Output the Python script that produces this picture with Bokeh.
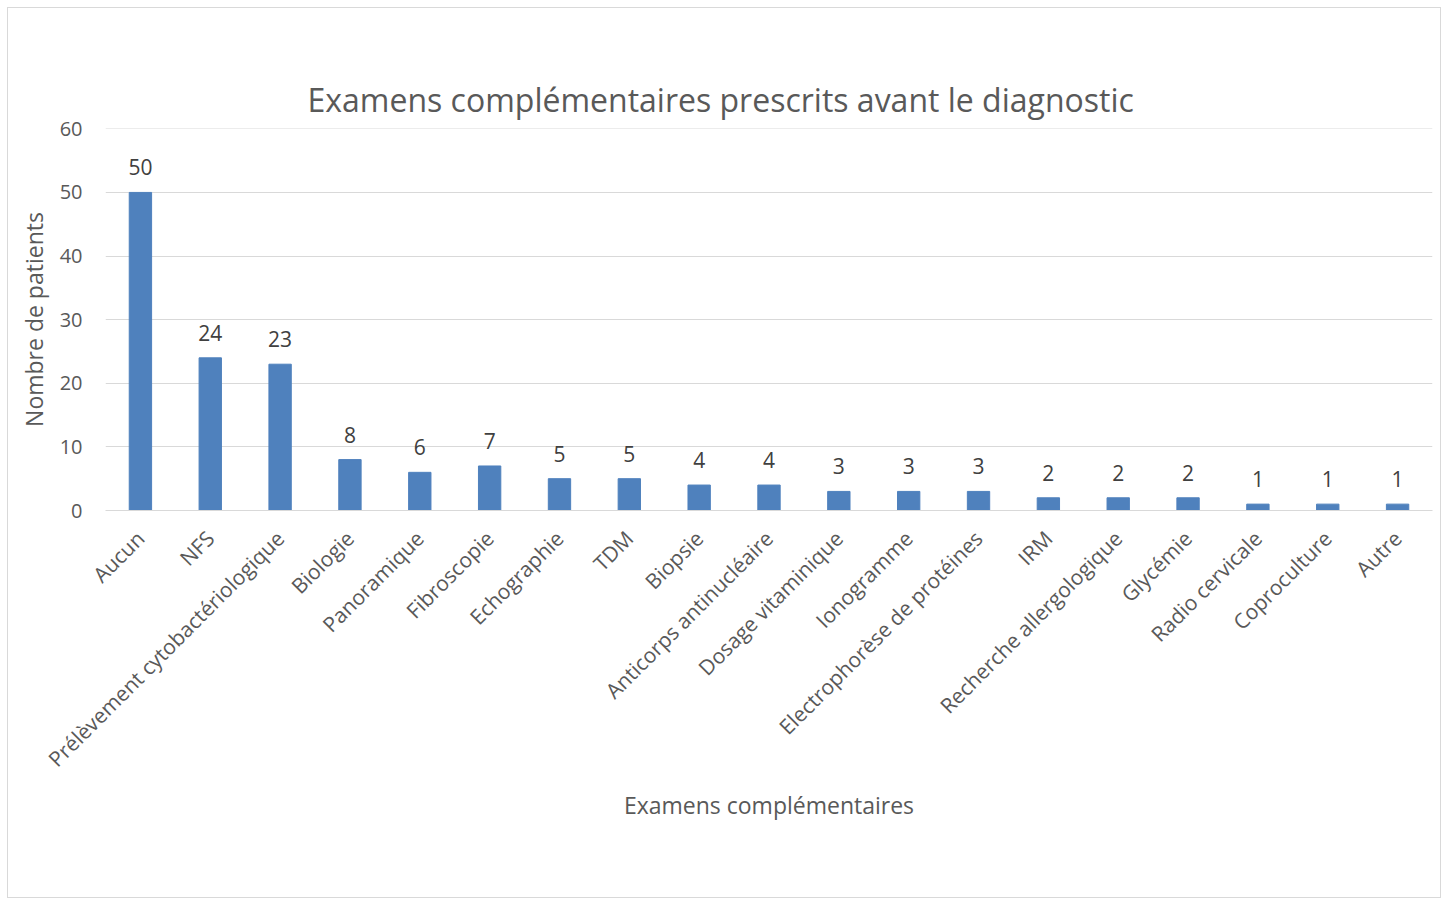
import math
from bokeh.plotting import figure
from bokeh.models import ColumnDataSource, SingleIntervalTicker, Title
from bokeh.core.properties import value
from bokeh.embed import file_html
from bokeh.resources import INLINE

categories = ["Aucun", "NFS", "Prélèvement cytobactériologique", "Biologie", "Panoramique",
              "Fibroscopie", "Echographie", "TDM", "Biopsie", "Anticorps antinucléaire",
              "Dosage vitaminique", "Ionogramme", "Electrophorèse de protéines", "IRM",
              "Recherche allergologique", "Glycémie", "Radio cervicale", "Coproculture", "Autre"]
counts = [50, 24, 23, 8, 6, 7, 5, 5, 4, 4, 3, 3, 3, 2, 2, 2, 1, 1, 1]
labels = [str(v) for v in counts]
title_text = "Examens complémentaires prescrits avant le diagnostic"

FONT = "Open Sans"
GREY = "#595959"

src = ColumnDataSource(dict(cat=categories, val=counts, lab=labels))

p = figure(x_range=categories, y_range=(0, 60.05), width=1434, height=891,
           output_backend="svg", toolbar_location=None,
           min_border_left=97, min_border_right=10, min_border_top=120, min_border_bottom=389)
p.styles = {"border": "1px solid #d9d9d9", "margin-left": "7px", "margin-top": "7px"}

p.vbar(x="cat", top="val", width=0.32, source=src, fill_color="#4F81BD", line_color="#4F81BD")
p.text(x="cat", y="val", text="lab", source=src, text_align="center", text_baseline="bottom",
       y_offset=-17, text_font=value(FONT), text_font_size="21px", text_color="#404040")

# invisible spacer between the frame and the title (first added = nearest to the frame)
spacer = Title(text=".", text_font_size="2px", text_alpha=0, standoff=45)
p.add_layout(spacer, "above")
t = Title(text=title_text, align="left",
          text_font=FONT, text_font_size="32px", text_font_style="normal", text_color=GREY,
          offset=202, standoff=16)
p.add_layout(t, "above")

p.outline_line_color = None
p.xgrid.grid_line_color = None
p.ygrid.grid_line_color = "#d9d9d9"
p.ygrid.grid_line_width = 1
p.yaxis.ticker = SingleIntervalTicker(interval=10)

p.yaxis.axis_line_color = None
p.xaxis.axis_line_color = "#d9d9d9"
for ax in (p.xaxis, p.yaxis):
    ax.major_tick_line_color = None
    ax.minor_tick_line_color = None
    ax.major_label_text_font = FONT
    ax.major_label_text_color = GREY
    ax.axis_label_text_font = FONT
    ax.axis_label_text_font_size = "23px"
    ax.axis_label_text_font_style = "normal"
    ax.axis_label_text_color = GREY

p.xaxis.major_label_text_font_size = "21px"
p.yaxis.major_label_text_font_size = "20px"
p.xaxis.major_label_orientation = math.pi / 4
p.xaxis.major_label_standoff = 18
p.yaxis.major_label_standoff = 17
p.xaxis.axis_label = "Examens complémentaires"
p.yaxis.axis_label = "Nombre de patients"
p.xaxis.axis_label_standoff = 4
p.yaxis.axis_label_standoff = 7

open("out.html", "w").write(file_html(p, INLINE))
